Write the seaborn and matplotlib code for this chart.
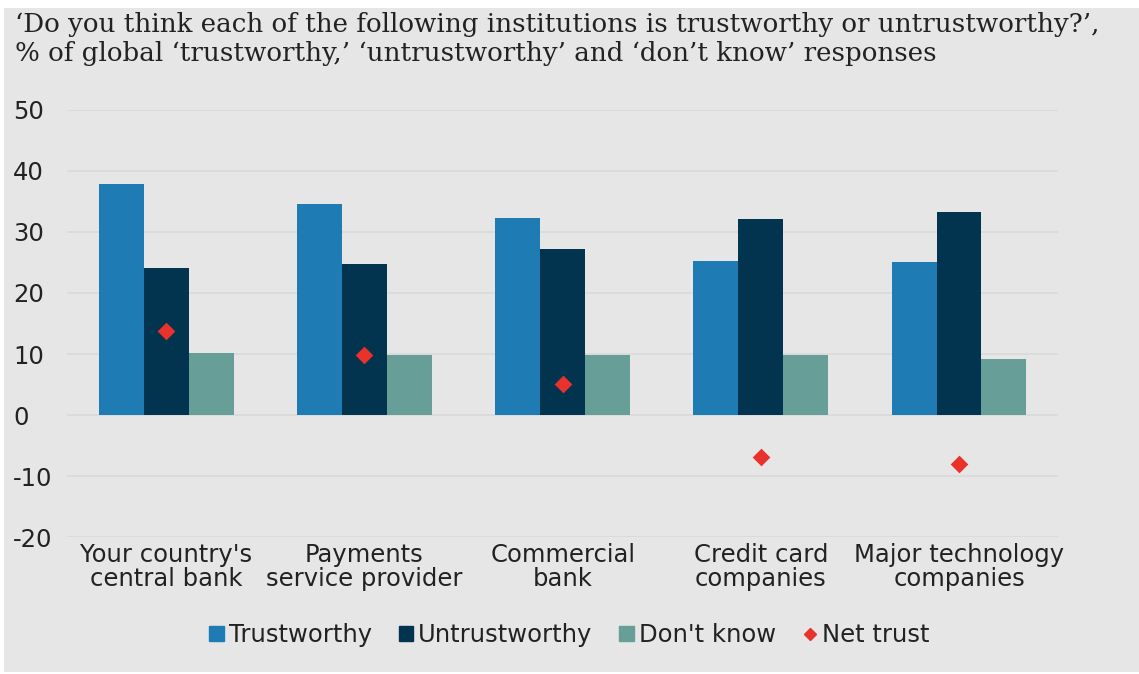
import pandas as pd
import matplotlib.pyplot as plt
import matplotlib.patches as mpatches
from matplotlib.lines import Line2D
import seaborn as sns

# values (% of global responses)
institutions = ["Your country's\ncentral bank", "Payments\nservice provider", "Commercial\nbank",
                "Credit card\ncompanies", "Major technology\ncompanies"]
trustworthy = [37.8, 34.5, 32.3, 25.3, 25.1]
untrustworthy = [24.1, 24.8, 27.2, 32.1, 33.2]
dont_know = [10.2, 9.8, 9.8, 9.8, 9.2]
net_trust = [13.7, 9.8, 5.1, -6.8, -8.0]

series = ["Trustworthy", "Untrustworthy", "Don't know"]
colors = ["#1f7bb4", "#03344f", "#679e98"]
bg = "#e6e6e6"

df = pd.DataFrame({
    "institution": institutions * 3,
    "series": [s for s in series for _ in institutions],
    "value": trustworthy + untrustworthy + dont_know,
})
net_df = pd.DataFrame({"institution": institutions, "net": net_trust})

sns.set_style("white")
plt.rcParams['font.family'] = ['DejaVu Sans']

fig = plt.figure(figsize=(11.39, 6.74), dpi=100, facecolor="white")
# grey panel behind everything
panel = mpatches.Rectangle((4 / 1139, 0.003), 1 - 4 / 1139, 1 - 8 / 674 - 0.003,
                           transform=fig.transFigure, facecolor=bg, edgecolor="none", zorder=-10)
fig.add_artist(panel)
ax = fig.add_axes([0.059, 0.203, 0.87, 0.634])
ax.set_facecolor(bg)

sns.barplot(data=df, x="institution", y="value", hue="series", hue_order=series,
            palette=colors, width=0.68, gap=0, saturation=1, ax=ax, legend=False,
            edgecolor="none")
sns.stripplot(data=net_df, x="institution", y="net", jitter=False, marker="D",
              color="#e8322b", size=9, ax=ax, zorder=5, linewidth=0)

ax.set_ylim(-20, 50)
ax.set_yticks(range(-20, 51, 10))
ax.set_yticklabels([str(v) for v in range(-20, 51, 10)])
ax.grid(axis="y", color="#d9d9d9", linewidth=1.2)
ax.set_axisbelow(True)
for s in ax.spines.values():
    s.set_visible(False)
ax.tick_params(axis="both", length=0, labelsize=17.5, colors="#222222")
ax.tick_params(axis="x", pad=4)
# y labels sit flush left in the original
for lbl in ax.get_yticklabels():
    lbl.set_horizontalalignment("left")
ax.tick_params(axis="y", pad=39)
for lbl in ax.get_xticklabels():
    lbl.set_multialignment("center")
    lbl.set_linespacing(1.0)
ax.set_xlabel("")
ax.set_ylabel("")

fig.text(0.013, 0.982, "\u2018Do you think each of the following institutions is trustworthy or untrustworthy?\u2019,\n"
         "% of global \u2018trustworthy,\u2019 \u2018untrustworthy\u2019 and \u2018don\u2019t know\u2019 responses",
         family="DejaVu Serif", fontsize=18.8, va="top", ha="left", color="#222222", linespacing=1.2)

handles = [mpatches.Patch(color=c, label=s) for c, s in zip(colors, series)]
handles.append(Line2D([], [], marker="D", color="#e8322b", linestyle="none", markersize=6,
                      label="Net trust"))
fig.legend(handles=handles, loc="center", bbox_to_anchor=(0.5, 0.058), ncol=4, frameon=False,
           fontsize=17.5, handlelength=0.6, handleheight=0.6, handletextpad=0.2, columnspacing=1.1,
           labelcolor="#222222")

fig.savefig("out.png", dpi=100, facecolor="white")
